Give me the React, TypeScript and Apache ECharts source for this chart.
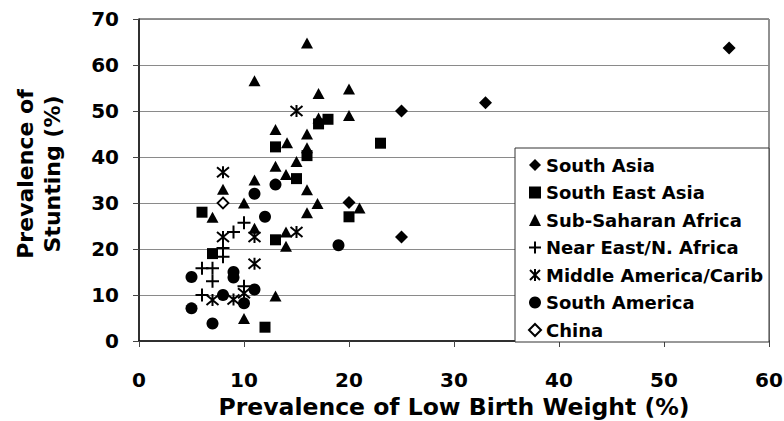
import React, { useEffect, useRef } from "react";
import * as echarts from "echarts";

const xTicks = [0, 10, 20, 30, 40, 50, 60];
const yTicks = [0, 10, 20, 30, 40, 50, 60, 70];

const seriesNames = [
  "South Asia",
  "South East Asia",
  "Sub-Saharan Africa",
  "Near East/N. Africa",
  "Middle America/Carib",
  "South America",
  "China",
];

const southAsia = [[56.2, 63.7], [33, 51.8], [25, 50], [20, 30.1], [25, 22.6]];
const southEastAsia = [
  [18, 48.2], [17.1, 47.2], [23, 43], [13, 42.2], [16, 40.3], [15, 35.3],
  [6, 28], [20, 27], [13, 22], [7, 19], [12, 3],
];
const subSaharanAfrica = [
  [16, 64.8], [11, 56.6], [20, 54.8], [17.1, 53.8], [20, 49], [17.1, 48.5],
  [13, 46], [16, 45], [14.1, 43.1], [16, 42], [15, 39], [13, 38], [14, 36.2],
  [11, 35], [8, 33], [16, 32.9], [10, 30], [17, 29.9], [21, 28.9], [16, 27.9],
  [7, 26.9], [11, 24.5], [14, 23.7], [14, 20.6], [13, 9.8], [10, 4.9],
];
const nearEast = [
  [10, 25.7], [9, 23.7], [8, 20.2], [8, 18.3], [6, 15.8], [7, 15.8],
  [7, 13], [10, 11.9], [6, 10],
];
const middleAmerica = [
  [15, 50], [8, 36.7], [8, 22.6], [11, 22.6], [15, 23.7], [11, 16.8],
  [10, 10.4], [7, 8.9], [9, 9],
];
const southAmerica = [
  [13, 34], [11, 32], [12, 27], [19, 20.8], [9, 15], [9, 13.8], [5, 13.9],
  [11, 11.2], [8, 10], [10, 8.2], [5, 7.1], [7, 3.8],
];
const china = [[8, 30]];

const FONT = "DejaVu Sans";

export default function App() {
  const ref = useRef<HTMLDivElement>(null);
  useEffect(() => {
    if (!ref.current) return;
    const chart = echarts.init(ref.current, null, { renderer: "svg" });
    const black = "#000";
    const plusPath = "path://M5,0L5,10M0,5L10,5";
    const starPath = "path://M0,0L10,10M10,0L0,10M5,-1L5,11";
    const mk = (name: string, data: number[][], symbol: string, size: any, style: any) => ({
      name,
      type: "scatter",
      data,
      symbol,
      symbolSize: size,
      itemStyle: { opacity: 1, ...style },
      z: 3,
    });
    const option: any = {
      animation: false,
      textStyle: { fontFamily: FONT },
      grid: {
        left: 139,
        right: 15,
        top: 19,
        bottom: 80,
        show: true,
        borderColor: "#222",
        borderWidth: 1,
        outerBoundsMode: "none",
      },
      xAxis: {
        type: "value",
        min: xTicks[0],
        max: xTicks[xTicks.length - 1],
        interval: 10,
        axisLine: { show: true, onZero: false, lineStyle: { color: "#111", width: 1.5 } },
        axisTick: { show: true, length: 6, lineStyle: { color: "#444" } },
        splitLine: { show: false },
        axisLabel: { fontSize: 20, fontWeight: "bold", color: black, margin: 29, fontFamily: FONT },
        name: "Prevalence of Low Birth Weight (%)",
        nameLocation: "middle",
        nameGap: 49,
        nameTextStyle: { fontSize: 23.5, fontWeight: "bold", color: black, fontFamily: FONT },
      },
      yAxis: {
        type: "value",
        min: yTicks[0],
        max: yTicks[yTicks.length - 1],
        interval: 10,
        axisLine: { show: true, onZero: false, lineStyle: { color: "#111", width: 1.5 } },
        axisTick: { show: true, length: 6, lineStyle: { color: "#444" } },
        splitLine: { show: true, lineStyle: { color: "#8a8a8a", width: 1 } },
        axisLabel: { fontSize: 20, fontWeight: "bold", color: black, margin: 20, fontFamily: FONT },
        name: "Prevalence of\nStunting (%)",
        nameLocation: "middle",
        nameRotate: 90,
        nameGap: 73,
        nameTextStyle: {
          fontSize: 22,
          fontWeight: "bold",
          color: black,
          lineHeight: 27,
          fontFamily: FONT,
          padding: [0, 0, 0, 12],
        },
      },
      legend: {
        orient: "vertical",
        left: 528,
        top: 155,
        padding: 0,
        itemWidth: 12,
        itemHeight: 12,
        itemGap: 7.5,
        z: 20,
        data: seriesNames,
        textStyle: {
          fontSize: 18,
          fontWeight: "bold",
          color: black,
          lineHeight: 20,
          fontFamily: FONT,
        },
      },
      graphic: [
        {
          type: "rect",
          z: 10,
          shape: { x: 515, y: 148, width: 254, height: 194 },
          style: { fill: "#fff", stroke: "#333", lineWidth: 1 },
        },
      ],
      series: [
        mk(seriesNames[0], southAsia, "diamond", [13, 13], { color: black }),
        mk(seriesNames[1], southEastAsia, "rect", [11, 11], { color: black }),
        mk(seriesNames[2], subSaharanAfrica, "triangle", [12, 11], { color: black }),
        mk(seriesNames[3], nearEast, plusPath, [13, 13], { color: black, borderColor: black, borderWidth: 2 }),
        mk(seriesNames[4], middleAmerica, starPath, [12, 12], { color: black, borderColor: black, borderWidth: 2 }),
        mk(seriesNames[5], southAmerica, "circle", [12, 12], { color: black }),
        mk(seriesNames[6], china, "diamond", [11, 11], { color: "#fff", borderColor: black, borderWidth: 1.8 }),
      ],
    };
    chart.setOption(option);
    return () => chart.dispose();
  }, []);
  return (
    <div
      ref={ref}
      style={{ position: "fixed", left: 0, top: 0, width: 784, height: 421, background: "#fff" }}
    />
  );
}
